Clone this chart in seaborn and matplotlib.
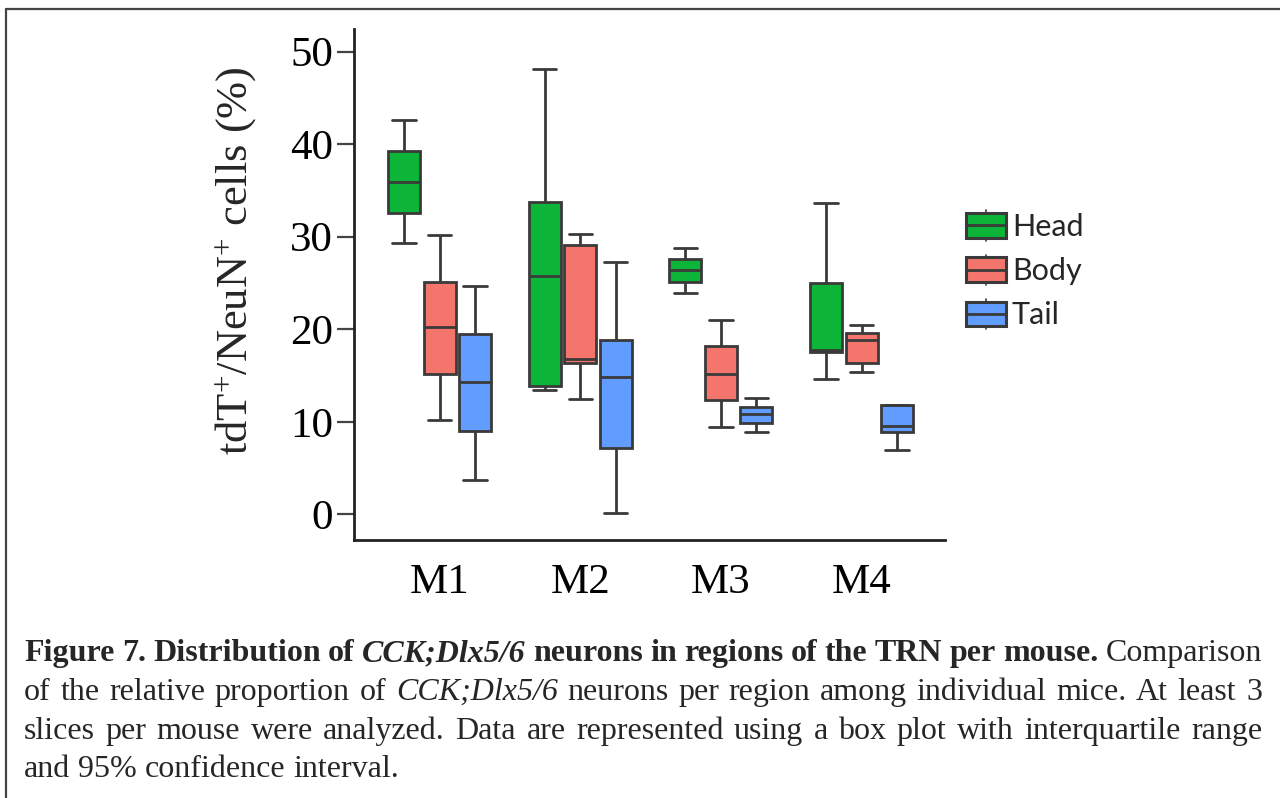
import numpy as np
import pandas as pd
import matplotlib
matplotlib.use("Agg")
import matplotlib.pyplot as plt
import seaborn as sns
from matplotlib.legend_handler import HandlerBase
from matplotlib.patches import Rectangle, Patch
from matplotlib.lines import Line2D

# ---------------- data (five-number summaries: min, q1, median, q3, max) ----------------
mice = ["M1", "M2", "M3", "M4"]
regions = ["Head", "Body", "Tail"]
head = [[29.3, 32.6, 35.9, 39.3, 42.6],
        [13.4, 13.9, 25.7, 33.7, 48.1],
        [23.9, 25.1, 26.4, 27.6, 28.8],
        [14.6, 17.5, 17.8, 25.0, 33.6]]
body = [[10.2, 15.2, 20.2, 25.1, 30.2],
        [12.5, 16.4, 16.8, 29.1, 30.3],
        [9.4, 12.4, 15.2, 18.2, 21.0],
        [15.4, 16.4, 18.8, 19.6, 20.5]]
tail = [[3.7, 9.0, 14.3, 19.5, 24.7],
        [0.1, 7.2, 14.8, 18.8, 27.3],
        [8.9, 9.9, 10.8, 11.6, 12.6],
        [6.9, 8.9, 9.5, 11.8, 11.8]]
yticks = [0, 10, 20, 30, 40, 50]
ylabel = r"tdT$^{\mathrm{+}}$/NeuN$^{\mathrm{+}}$ cells (%)"

colors = {"Head": "#0CB537", "Body": "#F4756C", "Tail": "#619DFF"}
EDGE = "#3A3A3A"

rows = []
for reg, arr in zip(regions, [head, body, tail]):
    for m, vals in zip(mice, arr):
        for v in vals:
            rows.append({"mouse": m, "region": reg, "value": v})
df = pd.DataFrame(rows)

# ---------------- figure ----------------
sns.set_theme(style="white")
plt.rcParams["font.family"] = ["Liberation Serif", "DejaVu Serif"]
plt.rcParams["mathtext.fontset"] = "custom"
plt.rcParams["mathtext.rm"] = "Liberation Serif"
plt.rcParams["mathtext.it"] = "Liberation Serif:italic"

W, H = 1280, 798
fig = plt.figure(figsize=(12.8, 7.98), dpi=100)
fig.patch.set_facecolor("white")

def px(x0, y0, x1, y1):
    return [x0 / W, 1 - y1 / H, (x1 - x0) / W, (y1 - y0) / H]

ax = fig.add_axes(px(354, 29, 945, 540))
sns.boxplot(data=df, x="mouse", y="value", hue="region", order=mice,
            hue_order=regions, palette=colors, whis=(0, 100), width=0.757,
            gap=0.1, linewidth=2.0, linecolor=EDGE, saturation=1,
            fliersize=0, legend=False, capwidths=0.165, ax=ax)

ax.set_xlim(-0.608, 3.593)
ax.set_ylim(-2.78, 52.45)
ax.set_yticks(yticks)
ax.set_yticklabels([str(t) for t in yticks])
ax.set_xlabel("")
ax.set_ylabel("")
for s in ["top", "right"]:
    ax.spines[s].set_visible(False)
for s in ["left", "bottom"]:
    ax.spines[s].set_color("#222222")
    ax.spines[s].set_linewidth(2.0)
ax.tick_params(axis="y", which="both", left=True, length=12, width=1.6,
               color="#444444", labelsize=31, pad=3, labelcolor="black")
ax.tick_params(axis="x", which="both", bottom=False, labelsize=31, pad=11,
               labelcolor="black")
ax.grid(False)

fig.text(236 / W, 1 - 261 / H, ylabel, fontsize=32, rotation=90,
         ha="center", va="center")


class BoxHandler(HandlerBase):
    def create_artists(self, legend, orig_handle, xdescent, ydescent, width,
                       height, fontsize, trans):
        fc = orig_handle.get_facecolor()
        x0, y0 = -xdescent, -ydescent
        cx = x0 + width / 2
        stub = height * 0.12
        r = Rectangle((x0, y0), width, height, facecolor=fc, edgecolor=EDGE,
                      lw=2.2, transform=trans)
        m = Line2D([x0, x0 + width], [y0 + height / 2] * 2, color=EDGE,
                   lw=2.0, transform=trans)
        s1 = Line2D([cx, cx], [y0 + height, y0 + height + stub], color=EDGE,
                    lw=1.2, transform=trans)
        s2 = Line2D([cx, cx], [y0, y0 - stub], color=EDGE, lw=1.2,
                    transform=trans)
        return [s1, s2, r, m]


handles = [Patch(facecolor=colors[r]) for r in regions]
leg = fig.legend(handles, regions, handler_map={Patch: BoxHandler()},
                 loc="upper left", bbox_to_anchor=(966 / W, 1 - 213 / H),
                 frameon=False, prop={"family": "Lato", "size": 22},
                 handlelength=1.3, handleheight=0.85, handletextpad=0.2,
                 labelspacing=0.53, borderpad=0, borderaxespad=0)

# ---------------- frame ----------------
fig.add_artist(Line2D([6 / W, 1.0], [1 - 9 / H] * 2, color="#444444", lw=1.6))
fig.add_artist(Line2D([6 / W] * 2, [0.0, 1 - 9 / H], color="#444444", lw=1.6))

# ---------------- caption (justified) ----------------
cap_lines = [
    [("Figure 7. Distribution of", "bold", "normal"),
     ("CCK;Dlx5/6", "bold", "italic"),
     ("neurons in regions of the TRN per mouse.", "bold", "normal"),
     ("Comparison", "normal", "normal")],
    [("of the relative proportion of", "normal", "normal"),
     ("CCK;Dlx5/6", "normal", "italic"),
     ("neurons per region among individual mice. At least 3", "normal", "normal")],
    [("slices per mouse were analyzed. Data are represented using a box plot with interquartile range",
      "normal", "normal")],
    [("and 95% confidence interval.", "normal", "normal")],
]
cap_y = [661, 700, 739, 777]
cap_left, cap_right = 24, 1262
cap_size = 23
renderer = fig.canvas.get_renderer()

def width_of(s, weight, style):
    t = fig.text(0, 0, s, fontsize=cap_size, fontweight=weight, fontstyle=style,
                 family="Liberation Serif")
    w = t.get_window_extent(renderer).width
    t.remove()
    return w

space_w = width_of("a a", "normal", "normal") - width_of("aa", "normal", "normal")
for li, (line, yb) in enumerate(zip(cap_lines, cap_y)):
    words = []
    for seg, weight, style in line:
        for wd in seg.split(" "):
            words.append((wd, weight, style))
    widths = [width_of(w, wt, st) for w, wt, st in words]
    if li < len(cap_lines) - 1 and len(words) > 1:
        gap = (cap_right - cap_left - sum(widths)) / (len(words) - 1)
    else:
        gap = space_w
    x = cap_left
    for (w, wt, st), wd in zip(words, widths):
        fig.text(x / W, 1 - yb / H, w, fontsize=cap_size, fontweight=wt,
                 fontstyle=st, family="Liberation Serif", va="baseline",
                 ha="left")
        x += wd + gap

fig.savefig("out.png", dpi=100, facecolor="white")
